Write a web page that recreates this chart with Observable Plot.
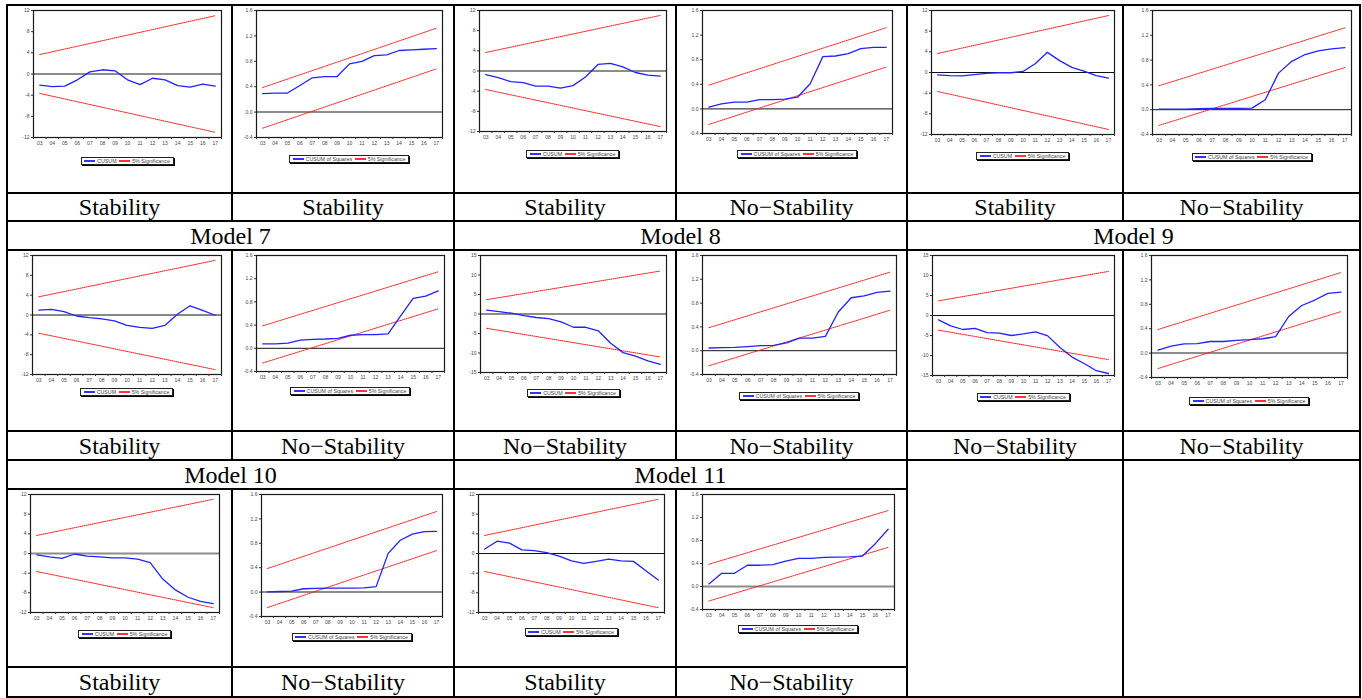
<!DOCTYPE html>
<html><head><meta charset="utf-8">
<script src="https://cdn.jsdelivr.net/npm/d3@7"></script>
<script src="https://cdn.jsdelivr.net/npm/@observablehq/plot@0.6"></script>
<style>
body{margin:0;background:#fff;}
#root{position:relative;width:1362px;height:698px;overflow:hidden;font-family:"Liberation Serif","Times New Roman",serif;}
.hl{position:absolute;height:2px;background:#000;}
.vl{position:absolute;width:2px;background:#000;}
.lab{position:absolute;font-size:24px;line-height:1;display:flex;align-items:center;justify-content:center;color:#000;}
.cell{position:absolute;}
.cell svg{display:block;}
.leg{position:absolute;display:flex;justify-content:center;}
.legbox{display:flex;align-items:center;justify-content:space-evenly;border:1px solid #222;box-shadow:1px 1px 0 #000;height:6px;font:5.3px "Liberation Sans",Arial,sans-serif;color:#444;background:#fff;white-space:nowrap;box-sizing:content-box;}
.it{display:flex;align-items:center;}
.sw{display:inline-block;width:11px;height:1.5px;margin-right:2px;}
</style></head><body><div id="root"></div>
<script>
// ---------------- data ----------------
const years = ["03","04","05","06","07","08","09","10","11","12","13","14","15","16","17"];
const cusumTicks12 = [12, 8, 4, 0, -4, -8, -12];
const cusumTicks15 = [15, 10, 5, 0, -5, -10, -15];
const cusumSqTicks = [1.6, 1.2, 0.8, 0.4, 0.0, -0.4];
const bandYears = ["03", "17"];
const cusumUpper = [3.67, 11.02];
const cusumLower = [-3.67, -11.02];
const cusumSqUpper = [0.387, 1.320];
const cusumSqLower = [-0.253, 0.680];

const top1Cusum   = [-2.1,-2.4,-2.3,-1.1,0.4,0.8,0.6,-1.1,-2.0,-0.8,-1.1,-2.2,-2.5,-1.9,-2.3];
const top1CusumSq = [0.29,0.30,0.30,0.42,0.54,0.56,0.56,0.76,0.80,0.89,0.90,0.97,0.98,0.99,1.00];
const top2Cusum   = [-0.7,-1.3,-2.1,-2.3,-3.0,-3.0,-3.4,-2.9,-1.2,1.3,1.5,0.8,-0.3,-0.8,-1.0];
const top2CusumSq = [0.03,0.08,0.11,0.11,0.15,0.15,0.16,0.19,0.41,0.85,0.86,0.90,0.98,1.00,1.00];
const top3Cusum   = [-0.45,-0.6,-0.65,-0.4,-0.15,-0.05,-0.05,0.2,1.7,3.9,2.3,1.0,0.25,-0.6,-1.1];
const top3CusumSq = [0.01,0.01,0.01,0.015,0.02,0.02,0.02,0.025,0.16,0.59,0.78,0.89,0.95,0.98,1.00];
const model7Cusum   = [1.0,1.15,0.7,-0.2,-0.55,-0.8,-1.2,-2.1,-2.5,-2.7,-2.1,0.15,1.85,0.95,-0.05];
const model7CusumSq = [0.075,0.075,0.09,0.14,0.155,0.16,0.17,0.225,0.235,0.235,0.25,0.56,0.86,0.90,0.99];
const model8Cusum   = [1.0,0.6,0.2,-0.4,-0.9,-1.2,-2.0,-3.4,-3.4,-4.3,-7.5,-9.9,-10.8,-12.0,-12.9];
const model8CusumSq = [0.045,0.05,0.055,0.07,0.085,0.09,0.13,0.21,0.21,0.24,0.65,0.89,0.92,0.98,1.00];
const model9Cusum   = [-1.1,-2.6,-3.5,-3.2,-4.3,-4.4,-5.0,-4.6,-4.1,-5.1,-8.0,-10.4,-12.0,-13.8,-14.5];
const model9CusumSq = [0.05,0.115,0.15,0.155,0.19,0.19,0.21,0.22,0.235,0.27,0.60,0.78,0.87,0.98,1.00];
const model10Cusum   = [-0.3,-0.7,-1.0,-0.1,-0.55,-0.7,-0.9,-0.9,-1.15,-1.85,-5.2,-7.4,-8.9,-9.75,-10.2];
const model10CusumSq = [0.005,0.01,0.015,0.055,0.06,0.065,0.065,0.065,0.07,0.09,0.635,0.85,0.95,0.99,0.995];
const model11Cusum   = [0.9,2.5,2.1,0.75,0.6,0.2,-0.55,-1.5,-2.0,-1.6,-1.15,-1.5,-1.6,-3.5,-5.4];
const model11CusumSq = [0.045,0.23,0.23,0.37,0.37,0.38,0.44,0.49,0.49,0.505,0.51,0.515,0.53,0.745,0.995];

const verdictsRow1 = ["Stability","Stability","Stability","No\u2212Stability","Stability","No\u2212Stability"];
const verdictsRow2 = ["Stability","No\u2212Stability","No\u2212Stability","No\u2212Stability","No\u2212Stability","No\u2212Stability"];
const verdictsRow3 = ["Stability","No\u2212Stability","Stability","No\u2212Stability"];
const modelTitlesRow2 = ["Model 7","Model 8","Model 9"];
const modelTitlesRow3 = ["Model 10","Model 11"];
const cusumLegend = ["CUSUM","5% Significance"];
const cusumSqLegend = ["CUSUM of Squares","5% Significance"];

// ---------------- layout ----------------
const colX = [6, 231, 453, 675, 906, 1122, 1359];
const rowY = [4, 192, 220, 249, 430, 459, 488, 666, 696];
const chartTop = [4, 250, 489];
// per panel: [marginLeft, marginRight, frameTop, frameBottom, legendTop, zeroStyle]
const panelBox = [
  [27,10,6,133,153,"g"],[25,11,6,133,151,"g"],[26,9,6,127,146,"g"],[27,14,6,129,146,"k"],[25,8,6,130,148,"k"],[30,8,6,130,149,"k"],
  [26,10,5,124,138,"k"],[25,9,5,121,137,"k"],[27,9,5,122,139,"g"],[27,10,5,124,142,"k"],[26,8,5,125,143,"k"],[29,12,5,127,147,"g"],
  [24,12,5,123,141,"g"],[30,11,5,127,144,"g"],[25,11,5,123,139,"k"],[27,12,5,120,136,"g"]
];

const panels = [
  [top1Cusum,"c",cusumTicks12],[top1CusumSq,"s",cusumSqTicks],
  [top2Cusum,"c",cusumTicks12],[top2CusumSq,"s",cusumSqTicks],
  [top3Cusum,"c",cusumTicks12],[top3CusumSq,"s",cusumSqTicks],
  [model7Cusum,"c",cusumTicks12],[model7CusumSq,"s",cusumSqTicks],
  [model8Cusum,"c",cusumTicks15],[model8CusumSq,"s",cusumSqTicks],
  [model9Cusum,"c",cusumTicks15],[model9CusumSq,"s",cusumSqTicks],
  [model10Cusum,"c",cusumTicks12],[model10CusumSq,"s",cusumSqTicks],
  [model11Cusum,"c",cusumTicks12],[model11CusumSq,"s",cusumSqTicks]
];

const root = document.getElementById("root");
function el(cls, l, t, w, h, txt) {
  const d = document.createElement("div");
  d.className = cls;
  d.style.left = l + "px"; d.style.top = t + "px";
  if (w != null) d.style.width = w + "px";
  if (h != null) d.style.height = h + "px";
  if (txt != null) d.textContent = txt;
  root.appendChild(d);
  return d;
}

// grid lines
const fullW = colX[6] + 2 - colX[0];
[0,1,2,3,4,5,8].forEach(i => el("hl", colX[0], rowY[i], fullW, 2));
[6,7].forEach(i => el("hl", colX[0], rowY[i], colX[4] - colX[0], 2));
el("vl", colX[0], rowY[0], 2, rowY[8] + 2 - rowY[0]);
el("vl", colX[6], rowY[0], 2, rowY[8] + 2 - rowY[0]);
el("vl", colX[2], rowY[0], 2, rowY[8] + 2 - rowY[0]);
el("vl", colX[4], rowY[0], 2, rowY[8] + 2 - rowY[0]);
[1,3].forEach(c => {
  el("vl", colX[c], rowY[0], 2, rowY[2] - rowY[0]);
  el("vl", colX[c], rowY[3], 2, rowY[5] - rowY[3]);
  el("vl", colX[c], rowY[6], 2, rowY[8] - rowY[6]);
});
el("vl", colX[5], rowY[0], 2, rowY[2] - rowY[0]);
el("vl", colX[5], rowY[3], 2, rowY[8] - rowY[3]);

// labels
function labelRow(texts, yTop, yBot) {
  texts.forEach((t, c) => el("lab", colX[c] + 2, yTop + 2, colX[c+1] - colX[c] - 2, yBot - yTop - 2, t));
}
labelRow(verdictsRow1, rowY[1], rowY[2]);
labelRow(verdictsRow2, rowY[4], rowY[5]);
labelRow(verdictsRow3, rowY[7], rowY[8]);
modelTitlesRow2.forEach((t, k) => el("lab", colX[2*k] + 2, rowY[2] + 2, colX[2*k+2] - colX[2*k] - 2, rowY[3] - rowY[2] - 2, t));
modelTitlesRow3.forEach((t, k) => el("lab", colX[2*k] + 2, rowY[5] + 2, colX[2*k+2] - colX[2*k] - 2, rowY[6] - rowY[5] - 2, t));

// charts
const xs = years.map(Number);
const boundaries = xs.map(v => v - 0.5).concat([xs[xs.length - 1] + 0.5]);
function chart(values, kind, ticks, box, W) {
  const [ml, mr, ft, fb, , zs] = box;
  const H = fb + 14;
  const isSq = kind === "s";
  const data = values.map((v, i) => ({x: +years[i], y: v}));
  const up = (isSq ? cusumSqUpper : cusumUpper).map((v, i) => ({x: +bandYears[i], y: v}));
  const lo = (isSq ? cusumSqLower : cusumLower).map((v, i) => ({x: +bandYears[i], y: v}));
  const fmt = isSq ? (d => d.toFixed(1)) : (d => String(d));
  return Plot.plot({
    width: W, height: H,
    marginLeft: ml, marginRight: mr, marginTop: ft, marginBottom: H - fb,
    x: {domain: [boundaries[0], boundaries[boundaries.length - 1]], label: null},
    y: {domain: [ticks[ticks.length - 1], ticks[0]], label: null},
    style: {fontFamily: "'Liberation Sans', Arial, sans-serif", fontSize: "5px", color: "#444", background: "transparent", overflow: "visible"},
    marks: [
      Plot.ruleY([0], {stroke: zs === "g" ? "#8c8c8c" : "#111", strokeWidth: zs === "g" ? 2 : 1}),
      Plot.line(up, {x: "x", y: "y", stroke: "#ff1a1a", strokeWidth: 1, strokeDasharray: "1,1"}),
      Plot.line(lo, {x: "x", y: "y", stroke: "#ff1a1a", strokeWidth: 1, strokeDasharray: "1,1"}),
      Plot.line(data, {x: "x", y: "y", stroke: "#2222ff", strokeWidth: 1.3}),
      Plot.frame({stroke: "#1a1a1a", strokeWidth: 1.2}),
      Plot.axisY(ticks, {tickSize: 2, tickPadding: 2, tickFormat: fmt, fontSize: 5, label: null, stroke: "#333"}),
      Plot.axisX(xs, {tickSize: 0, tickPadding: 4, tickFormat: d => years[xs.indexOf(d)], fontSize: 5, label: null}),
      Plot.axisX(boundaries, {tickSize: 2, tickFormat: () => "", label: null, stroke: "#333"})
    ]
  });
}

panels.forEach(([values, kind, ticks], p) => {
  const r = Math.floor(p / 6), c = p % 6;
  const box = panelBox[p];
  const W = colX[c+1] - colX[c];
  const top = chartTop[r];
  const holder = el("cell", colX[c], top, W, null);
  holder.appendChild(chart(values, kind, ticks, box, W));
  // legend
  const [ml, mr, , , lt] = box;
  const lg = el("leg", colX[c] + ml, top + lt, W - ml - mr, null);
  const b = document.createElement("div");
  b.className = "legbox";
  const names = kind === "s" ? cusumSqLegend : cusumLegend;
  b.style.width = (kind === "s" ? 118 : 91) + "px";
  names.forEach((n, k) => {
    const it = document.createElement("span"); it.className = "it";
    const sw = document.createElement("span"); sw.className = "sw";
    sw.style.background = k === 0 ? "#3333ff" : "#ff3333";
    it.appendChild(sw);
    it.appendChild(document.createTextNode(n));
    b.appendChild(it);
  });
  lg.appendChild(b);
});
</script></body></html>
